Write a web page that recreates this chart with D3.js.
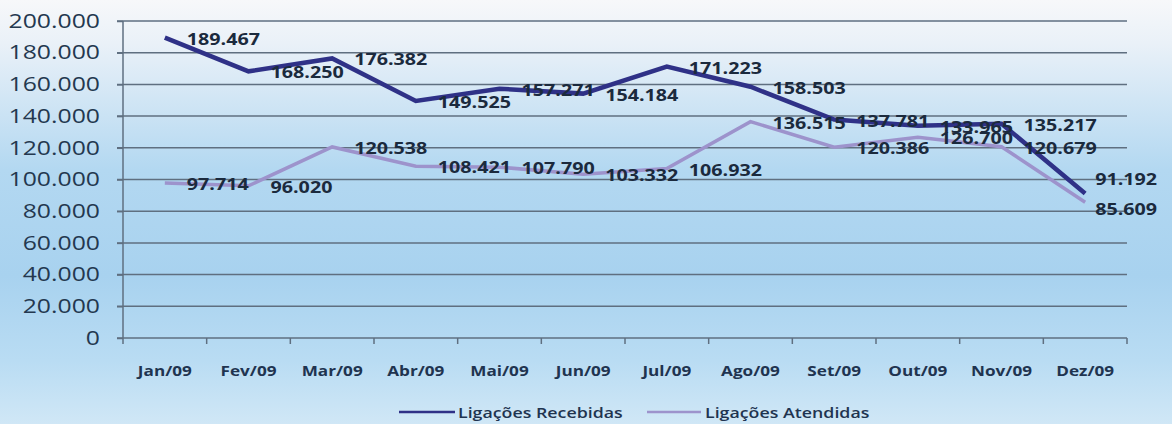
<!DOCTYPE html>
<html>
<head>
<meta charset="utf-8">
<script src="https://cdn.jsdelivr.net/npm/d3@7"></script>
<style>
  html, body { margin: 0; padding: 0; }
  body { width: 1172px; height: 424px; overflow: hidden; }
</style>
</head>
<body>
<svg id="chart"></svg>
<script>
// chart data
const months = ["Jan/09", "Fev/09", "Mar/09", "Abr/09", "Mai/09", "Jun/09",
  "Jul/09", "Ago/09", "Set/09", "Out/09", "Nov/09", "Dez/09"];
const recebidas = [189467, 168250, 176382, 149525, 157271, 154184,
  171223, 158503, 137781, 133965, 135217, 91192];
const atendidas = [97714, 96020, 120538, 108421, 107790, 103332,
  106932, 136515, 120386, 126700, 120679, 85609];
const yTicks = [0, 20000, 40000, 60000, 80000, 100000, 120000, 140000, 160000, 180000, 200000];
const seriesNames = ["Ligações Recebidas", "Ligações Atendidas"];

// plot area
const width = 1172;
const height = 424;
const plotLeft = 123, plotRight = 1127, plotTop = 21, plotBottom = 338;
const stretch = 1.27; // the original picture is a bit wide, so text gets stretched too

const svg = d3.select("#chart").attr("width", width).attr("height", height);

// background gradient
const defs = svg.append("defs");
const grad = defs.append("linearGradient")
  .attr("id", "bg").attr("x1", 0).attr("y1", 0).attr("x2", 0).attr("y2", 1);
[["0%", "#f7f8fa"], ["10%", "#eaf1f8"], ["40%", "#b3d8f1"], ["65%", "#a8d2ef"], ["85%", "#b9dcf3"], ["100%", "#d0e7f6"]]
  .forEach(s => grad.append("stop").attr("offset", s[0]).attr("stop-color", s[1]));
svg.append("rect").attr("width", width).attr("height", height).attr("fill", "url(#bg)");

const xScale = d3.scaleBand().domain(months).range([plotLeft, plotRight]);
const yScale = d3.scaleLinear().domain([0, 200000]).range([plotBottom, plotTop]);

const fmt = d3.formatLocale({ decimal: ",", thousands: ".", grouping: [3], currency: ["", ""] }).format(",d");

const widen = (sel) => {
  sel.each(function () {
    const len = this.getComputedTextLength();
    d3.select(this).attr("textLength", len * stretch).attr("lengthAdjust", "spacingAndGlyphs");
  });
};

// gridlines
svg.append("g")
  .selectAll("line")
  .data(yTicks.filter(d => d > 0))
  .enter()
  .append("line")
  .attr("x1", plotLeft - 6).attr("x2", plotRight)
  .attr("y1", d => yScale(d)).attr("y2", d => yScale(d))
  .attr("stroke", "#5f6f80").attr("stroke-width", 1.5);

// y axis
const yAxis = d3.axisLeft(yScale).tickValues(yTicks).tickFormat(fmt).tickSize(6).tickPadding(17);
const gy = svg.append("g").attr("transform", "translate(" + plotLeft + ",0)").call(yAxis);
gy.select(".domain").attr("stroke", "#5f6f80").attr("stroke-width", 1.5).attr("d", "M0," + plotTop + "V" + plotBottom);
gy.selectAll(".tick line").attr("stroke", "#5f6f80").attr("stroke-width", 1.5);
gy.selectAll(".tick text")
  .attr("font-family", "'Open Sans', sans-serif")
  .attr("font-size", 19.5)
  .attr("fill", "#24384f")
  .call(widen);

// x axis
const xAxis = d3.axisBottom(xScale).tickSize(6).tickPadding(22);
const gx = svg.append("g").attr("transform", "translate(0," + plotBottom + ")").call(xAxis);
gx.select(".domain").attr("stroke", "#5f6f80").attr("stroke-width", 1.5).attr("d", "M" + (plotLeft - 6) + ",0H" + plotRight);
gx.selectAll(".tick line").attr("stroke", "#5f6f80").attr("stroke-width", 1.5)
  .attr("transform", "translate(" + (-xScale.bandwidth() / 2) + ",0)");
gx.append("line").attr("x1", plotRight).attr("x2", plotRight).attr("y1", 0).attr("y2", 6)
  .attr("stroke", "#5f6f80").attr("stroke-width", 1.5);
gx.selectAll(".tick text")
  .attr("font-family", "'Open Sans', sans-serif")
  .attr("font-weight", "bold")
  .attr("font-size", 13.5)
  .attr("fill", "#1f3450")
  .call(widen);

const cx = (d, i) => xScale(months[i]) + xScale.bandwidth() / 2;
const line = d3.line().x(cx).y(d => yScale(d));

const series = [
  { name: seriesNames[0], values: recebidas, color: "#2f3187", w: 4.5, lastDy: -15 },
  { name: seriesNames[1], values: atendidas, color: "#9d93cc", w: 3.5, lastDy: 6 }
];

// lines
series.slice().reverse().forEach(s => {
  svg.append("path")
    .datum(s.values)
    .attr("d", line)
    .attr("fill", "none")
    .attr("stroke", s.color)
    .attr("stroke-width", s.w)
    .attr("stroke-linejoin", "miter");
});

// data labels (right of the point; the last ones are pushed in by the edge)
const last = months.length - 1;
series.forEach(s => {
  svg.append("g")
    .selectAll("text")
    .data(s.values)
    .enter()
    .append("text")
    .attr("x", (d, i) => cx(d, i) + (i === last ? 10 : 22))
    .attr("y", (d, i) => yScale(d) + 7 + (i === last ? s.lastDy : 0))
    .attr("font-family", "'Open Sans', sans-serif")
    .attr("font-weight", "bold")
    .attr("font-size", 15.5)
    .attr("fill", "#1b2a3d")
    .text(fmt)
    .call(widen);
});

// legend
const legend = svg.append("g");
const legendItems = [
  { x1: 399, x2: 455, tx: 458 },
  { x1: 647, x2: 701, tx: 705 }
];
series.forEach((s, i) => {
  const it = legendItems[i];
  legend.append("line")
    .attr("x1", it.x1).attr("x2", it.x2).attr("y1", 412).attr("y2", 412)
    .attr("stroke", s.color).attr("stroke-width", 2.5);
  legend.append("text")
    .attr("x", it.tx).attr("y", 417.5)
    .attr("font-family", "'Open Sans', sans-serif")
    .attr("font-weight", 600)
    .attr("font-size", 14)
    .attr("fill", "#1f3450")
    .text(s.name)
    .call(widen);
});
</script>
</body>
</html>
